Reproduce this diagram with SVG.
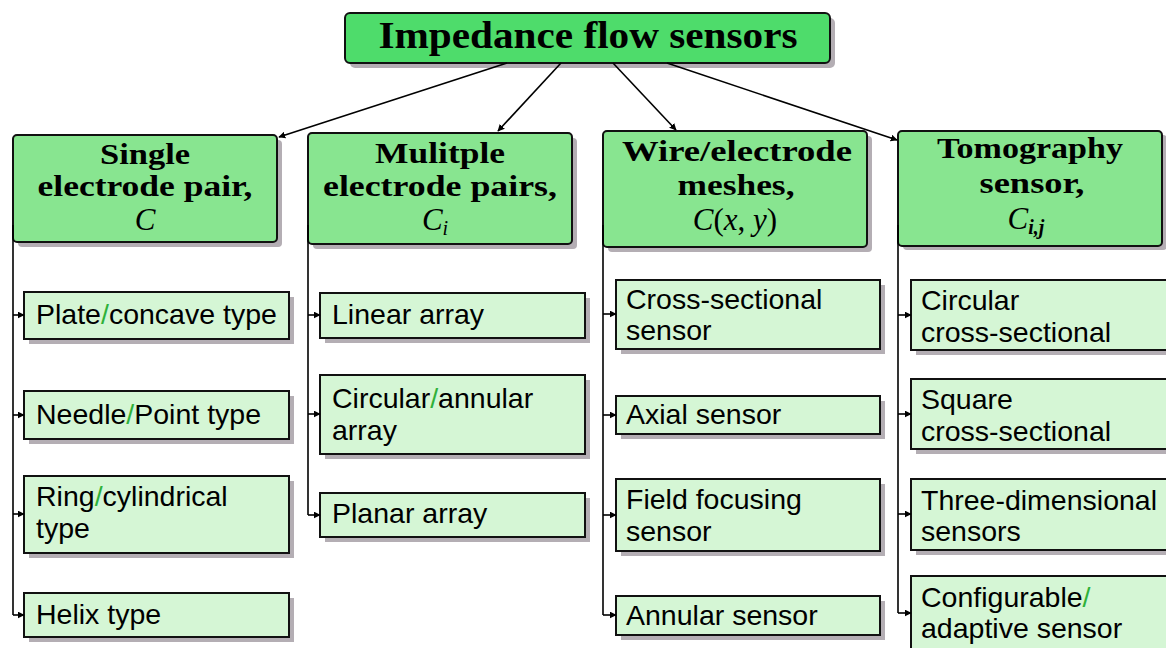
<svg xmlns="http://www.w3.org/2000/svg" width="1166" height="648" viewBox="0 0 1166 648">
<defs>
<marker id="ah" viewBox="0 0 10 10" refX="9" refY="5" markerWidth="7" markerHeight="7" markerUnits="userSpaceOnUse" orient="auto">
<path d="M0,0 L10,5 L0,10 z" fill="#000"/>
</marker>
<style>
.sh{fill:#b4aeb4}
.top{fill:#4edc6b;stroke:#111;stroke-width:2}
.l1{fill:#88e590;stroke:#111;stroke-width:2}
.ch{fill:#d5f6d5;stroke:#111;stroke-width:2}
.tt{font-family:"Liberation Serif",serif;font-weight:bold;font-size:38px;fill:#000;text-anchor:middle}
.h{font-family:"Liberation Serif",serif;font-weight:bold;font-size:30px;fill:#000;text-anchor:middle}
.m{font-family:"Liberation Serif",serif;font-style:italic;font-size:31px;fill:#000;text-anchor:middle}
.t{font-family:"Liberation Sans",sans-serif;font-size:28.5px;fill:#000}
.g{fill:#2fb13a}
.c{fill:none;stroke:#000;stroke-width:1.6}
</style>
</defs>
<rect width="1166" height="648" fill="#fff"/>

<g id="root">
<rect class="sh" x="350" y="18" width="485" height="50" rx="5"/>
<rect class="top" x="345" y="13" width="485" height="50" rx="5"/>
<text class="tt" x="588" y="48" textLength="419" lengthAdjust="spacingAndGlyphs">Impedance flow sensors</text>
</g>

<g id="n1">
<rect class="sh" x="18" y="140" width="264" height="107" rx="4"/>
<rect class="l1" x="13" y="135" width="264" height="107" rx="4"/>
<text class="h" x="145" y="164" textLength="90" lengthAdjust="spacingAndGlyphs">Single</text>
<text class="h" x="145" y="196" textLength="215" lengthAdjust="spacingAndGlyphs">electrode pair,</text>
<text class="m" x="145" y="230">C</text>
</g>
<g id="n2">
<rect class="sh" x="313" y="138" width="264" height="111" rx="4"/>
<rect class="l1" x="308" y="133" width="264" height="111" rx="4"/>
<text class="h" x="440" y="163" textLength="130" lengthAdjust="spacingAndGlyphs">Mulitple</text>
<text class="h" x="440" y="196" textLength="234" lengthAdjust="spacingAndGlyphs">electrode pairs,</text>
<text class="m" x="435" y="230">C<tspan font-size="20" dy="5">i</tspan></text>
</g>
<g id="n3">
<rect class="sh" x="608" y="136" width="264" height="116" rx="4"/>
<rect class="l1" x="603" y="131" width="264" height="116" rx="4"/>
<text class="h" x="737" y="161" textLength="230" lengthAdjust="spacingAndGlyphs">Wire/electrode</text>
<text class="h" x="736" y="195" textLength="117" lengthAdjust="spacingAndGlyphs">meshes,</text>
<text class="m" x="735" y="230">C<tspan font-style="normal">(</tspan>x<tspan font-style="normal">, </tspan>y<tspan font-style="normal">)</tspan></text>
</g>
<g id="n4">
<rect class="sh" x="903" y="135" width="264" height="115" rx="4"/>
<rect class="l1" x="898" y="131" width="264" height="115" rx="4"/>
<text class="h" x="1030" y="158" textLength="186" lengthAdjust="spacingAndGlyphs">Tomography</text>
<text class="h" x="1032" y="193" textLength="105" lengthAdjust="spacingAndGlyphs">sensor,</text>
<text class="m" x="1026" y="229">C<tspan font-size="20" font-weight="bold" dy="5">i,j</tspan></text>
</g>

<g id="c1a"><rect class="sh" x="29" y="297" width="265" height="47"/><rect class="ch" x="24" y="292" width="265" height="47"/><text class="t" x="36" y="324">Plate<tspan class="g">/</tspan>concave type</text></g>
<g id="c1b"><rect class="sh" x="29" y="396" width="265" height="48"/><rect class="ch" x="24" y="391" width="265" height="48"/><text class="t" x="36" y="424">Needle<tspan class="g">/</tspan>Point type</text></g>
<g id="c1c"><rect class="sh" x="29" y="481" width="265" height="77"/><rect class="ch" x="24" y="476" width="265" height="77"/><text class="t" x="36" y="506">Ring<tspan class="g">/</tspan>cylindrical</text><text class="t" x="36" y="538">type</text></g>
<g id="c1d"><rect class="sh" x="29" y="598" width="265" height="44"/><rect class="ch" x="24" y="593" width="265" height="44"/><text class="t" x="36" y="624">Helix type</text></g>

<g id="c2a"><rect class="sh" x="325" y="298" width="265" height="45"/><rect class="ch" x="320" y="293" width="265" height="45"/><text class="t" x="332" y="324">Linear array</text></g>
<g id="c2b"><rect class="sh" x="325" y="380" width="265" height="79"/><rect class="ch" x="320" y="375" width="265" height="79"/><text class="t" x="332" y="408">Circular<tspan class="g">/</tspan>annular</text><text class="t" x="332" y="440">array</text></g>
<g id="c2c"><rect class="sh" x="325" y="498" width="265" height="44"/><rect class="ch" x="320" y="493" width="265" height="44"/><text class="t" x="332" y="523">Planar array</text></g>

<g id="c3a"><rect class="sh" x="621" y="285" width="264" height="69"/><rect class="ch" x="616" y="280" width="264" height="69"/><text class="t" x="626" y="309">Cross-sectional</text><text class="t" x="626" y="340">sensor</text></g>
<g id="c3b"><rect class="sh" x="621" y="401" width="264" height="38"/><rect class="ch" x="616" y="396" width="264" height="38"/><text class="t" x="626" y="424">Axial sensor</text></g>
<g id="c3c"><rect class="sh" x="621" y="484" width="264" height="72"/><rect class="ch" x="616" y="479" width="264" height="72"/><text class="t" x="626" y="509">Field focusing</text><text class="t" x="626" y="541">sensor</text></g>
<g id="c3d"><rect class="sh" x="621" y="601" width="264" height="39"/><rect class="ch" x="616" y="596" width="264" height="39"/><text class="t" x="626" y="625">Annular sensor</text></g>

<g id="c4a"><rect class="sh" x="916" y="285" width="265" height="70"/><rect class="ch" x="911" y="280" width="265" height="70"/><text class="t" x="921" y="310">Circular</text><text class="t" x="921" y="342">cross-sectional</text></g>
<g id="c4b"><rect class="sh" x="916" y="384" width="265" height="70"/><rect class="ch" x="911" y="379" width="265" height="70"/><text class="t" x="921" y="409">Square</text><text class="t" x="921" y="441">cross-sectional</text></g>
<g id="c4c"><rect class="sh" x="916" y="484" width="265" height="71"/><rect class="ch" x="911" y="479" width="265" height="71"/><text class="t" x="921" y="510">Three-dimensional</text><text class="t" x="921" y="541">sensors</text></g>
<g id="c4d"><rect class="sh" x="916" y="581" width="265" height="80"/><rect class="ch" x="911" y="576" width="265" height="80"/><text class="t" x="921" y="607">Configurable<tspan class="g">/</tspan></text><text class="t" x="921" y="638">adaptive sensor</text></g>

<g id="connectors">
<path class="c" d="M507,63 L279,137" marker-end="url(#ah)"/>
<path class="c" d="M561,63 L498,131" marker-end="url(#ah)"/>
<path class="c" d="M613,63 L676,130" marker-end="url(#ah)"/>
<path class="c" d="M667,63 L897,140" marker-end="url(#ah)"/>

<path class="c" d="M13,225 V615"/>
<path class="c" d="M13,315 H24" marker-end="url(#ah)"/>
<path class="c" d="M13,415 H24" marker-end="url(#ah)"/>
<path class="c" d="M13,514 H24" marker-end="url(#ah)"/>
<path class="c" d="M13,615 H24" marker-end="url(#ah)"/>

<path class="c" d="M308,225 V515"/>
<path class="c" d="M308,315 H320" marker-end="url(#ah)"/>
<path class="c" d="M308,414 H320" marker-end="url(#ah)"/>
<path class="c" d="M308,515 H320" marker-end="url(#ah)"/>

<path class="c" d="M603,225 V615"/>
<path class="c" d="M603,314 H616" marker-end="url(#ah)"/>
<path class="c" d="M603,415 H616" marker-end="url(#ah)"/>
<path class="c" d="M603,515 H616" marker-end="url(#ah)"/>
<path class="c" d="M603,615 H616" marker-end="url(#ah)"/>

<path class="c" d="M898,225 V613"/>
<path class="c" d="M898,315 H911" marker-end="url(#ah)"/>
<path class="c" d="M898,414 H911" marker-end="url(#ah)"/>
<path class="c" d="M898,514 H911" marker-end="url(#ah)"/>
<path class="c" d="M898,613 H911" marker-end="url(#ah)"/>
</g>
</svg>
